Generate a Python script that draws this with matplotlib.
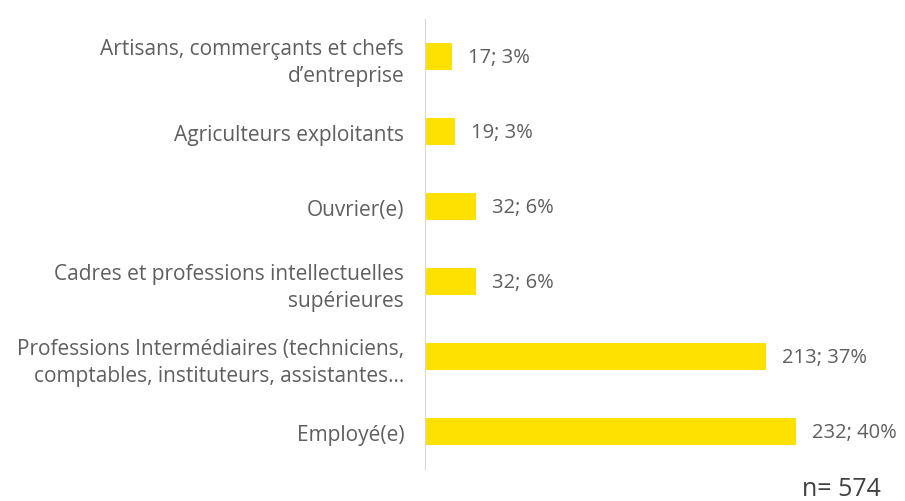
import matplotlib.pyplot as plt

plt.rcParams['font.family'] = ['Open Sans', 'DejaVu Sans']

categories = [
    "Employé(e)",
    "Professions Intermédiaires (techniciens,\ncomptables, instituteurs, assistantes...",
    "Cadres et professions intellectuelles\nsupérieures",
    "Ouvrier(e)",
    "Agriculteurs exploitants",
    "Artisans, commerçants et chefs\nd\u2019entreprise",
]
counts = [232, 213, 32, 32, 19, 17]
percents = [40, 37, 6, 6, 3, 3]
total = 574

fig = plt.figure(figsize=(9.05, 5.02), dpi=100)
ax = fig.add_axes([0.4696, 0.0637, 0.5304, 0.8963])

bars = ax.barh(range(len(categories)), counts, height=0.35, color='#FFE100')
for b, n, p in zip(bars, counts, percents):
    ax.text(b.get_width() + 10, b.get_y() + b.get_height() / 2, f"{n}; {p}%",
            va='center', ha='left', fontsize=14.5, color='#5f5f5f')

ax.set_yticks(range(len(categories)))
ax.set_yticklabels(categories, fontsize=15, color='#5f5f5f', linespacing=1.35)
ax.tick_params(axis='y', length=0, pad=15)
ax.set_xticks([])
ax.set_xlim(0, 300)
ax.set_ylim(-0.5, len(categories) - 0.5)
for s in ['top', 'right', 'bottom']:
    ax.spines[s].set_visible(False)
ax.spines['left'].set_color('#d9d9d9')

# sample size, bottom right
fig.text(0.886, 0.012, f"n= {total}", fontsize=18, color='#404040', ha='left', va='baseline')

fig.savefig('out.png', dpi=100)
